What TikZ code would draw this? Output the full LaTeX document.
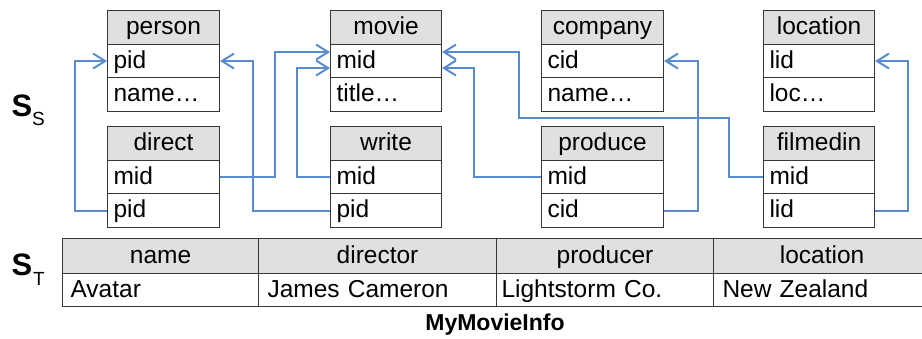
\documentclass[tikz,border=0pt]{standalone}
\usepackage{fontspec}
\setmainfont{Liberation Sans}
\usetikzlibrary{arrows.meta}

\definecolor{boxline}{RGB}{55,55,55}
\definecolor{hdrfill}{RGB}{223,224,226}
\definecolor{linkblue}{RGB}{88,140,206}

\begin{document}
\begin{tikzpicture}[x=1pt,y=-1pt,
  cell/.style={draw=boxline, line width=1.1pt, inner ysep=0pt, inner xsep=0pt,
    minimum height=33.67pt, anchor=north west,
    font=\fontsize{24.5}{25}\selectfont, text height=19pt, text depth=5pt},
  hdr/.style={cell, fill=hdrfill, align=center},
  fld/.style={cell, fill=white, align=left},
  fk/.style={draw=linkblue, line width=2.1pt, line join=miter,
    -{Straight Barb[length=12pt,width=15pt,line width=2pt]}},
  tcell/.style={draw=boxline, line width=1.1pt, inner sep=0pt, anchor=north west,
    font=\fontsize{24.5}{25}\selectfont, text height=19pt, text depth=5pt},
  big/.style={inner sep=0pt, anchor=base west, font=\fontsize{31}{31}\selectfont\bfseries},
  small/.style={inner sep=0pt, anchor=base west, font=\fontsize{19}{19}\selectfont},
]
\useasboundingbox (0,0) rectangle (922,339);

% one relation: #1 name, #2 x, #3 y, #4 width, #5 first field, #6 second field
\newcommand{\relbox}[6]{%
  \node[hdr, minimum width=#4pt, text width=#4pt] (#1) at (#2,#3) {#1};
  \node[fld, minimum width=#4pt, text width=#4pt-12pt] (#1-a) at (#2,#3+33.67) {#5};
  \node[fld, minimum width=#4pt, text width=#4pt-12pt] (#1-b) at (#2,#3+67.33) {#6};
}

% source schema relations
\relbox{person}{107}{10}{112}{pid}{name\ldots}
\relbox{movie}{330}{10}{111}{mid}{title\ldots}
\relbox{company}{541}{10}{122}{cid}{name\ldots}
\relbox{location}{763}{10}{111}{lid}{loc\ldots}
\relbox{direct}{107}{126}{112}{mid}{pid}
\relbox{write}{330}{126}{111}{mid}{pid}
\relbox{produce}{541}{126}{122}{mid}{cid}
\relbox{filmedin}{763}{126}{111}{mid}{lid}

% foreign keys
\draw[fk] (direct-b.west) -- ++(-32,0) |- (person-a.west);
\draw[fk] (write-b.west) -- ++(-77,0) |- (person-a.east);
\draw[fk] (direct-a.east) -- ++(55,0) |- ([yshift=9pt]movie-a.west);
\draw[fk] (write-a.west) -- ++(-33,0) |- ([yshift=-7pt]movie-a.west);
\draw[fk] (produce-a.west) -- ++(-67,0) |- ([yshift=-7pt]movie-a.east);
\draw[fk] (filmedin-a.west) -- ++(-34,0) -- ++(0,-59) -- ++(-210,0)
  |- ([yshift=9pt]movie-a.east);
\draw[fk] (produce-b.east) -- ++(34,0) |- (company-a.east);
\draw[fk] (filmedin-b.east) -- ++(33,0) |- (location-a.east);

% target relation
\node[tcell, fill=hdrfill, minimum width=196pt, minimum height=35pt] (h1) at (62,238) {name};
\node[tcell, fill=hdrfill, minimum width=238pt, minimum height=35pt] (h2) at (258,238) {director};
\node[tcell, fill=hdrfill, minimum width=217pt, minimum height=35pt] (h3) at (496,238) {producer};
\node[tcell, fill=hdrfill, minimum width=217pt, minimum height=35pt] (h4) at (713,238) {location};
\node[tcell, minimum width=196pt, minimum height=33pt, text width=180pt, align=left] (d1) at (62,273) {Avatar};
\node[tcell, minimum width=238pt, minimum height=33pt, text width=220pt, align=left] (d2) at (258,273) {James Cameron};
\node[tcell, minimum width=217pt, minimum height=33pt, text width=207pt, align=left] (d3) at (496,273) {Lightstorm Co.};
\node[tcell, minimum width=217pt, minimum height=33pt, text width=199pt, align=left] (d4) at (713,273) {New Zealand};

\node[inner sep=0pt, anchor=base, font=\fontsize{23}{23}\selectfont\bfseries] (title) at (495,331) {MyMovieInfo};

% schema labels
\node[big] (ss) at (11.5,117) {S};
\node[small] (sss) at (32,126) {S};
\node[big] (st) at (11.5,276) {S};
\node[small] (stt) at (33,286) {T};
\end{tikzpicture}
\end{document}
